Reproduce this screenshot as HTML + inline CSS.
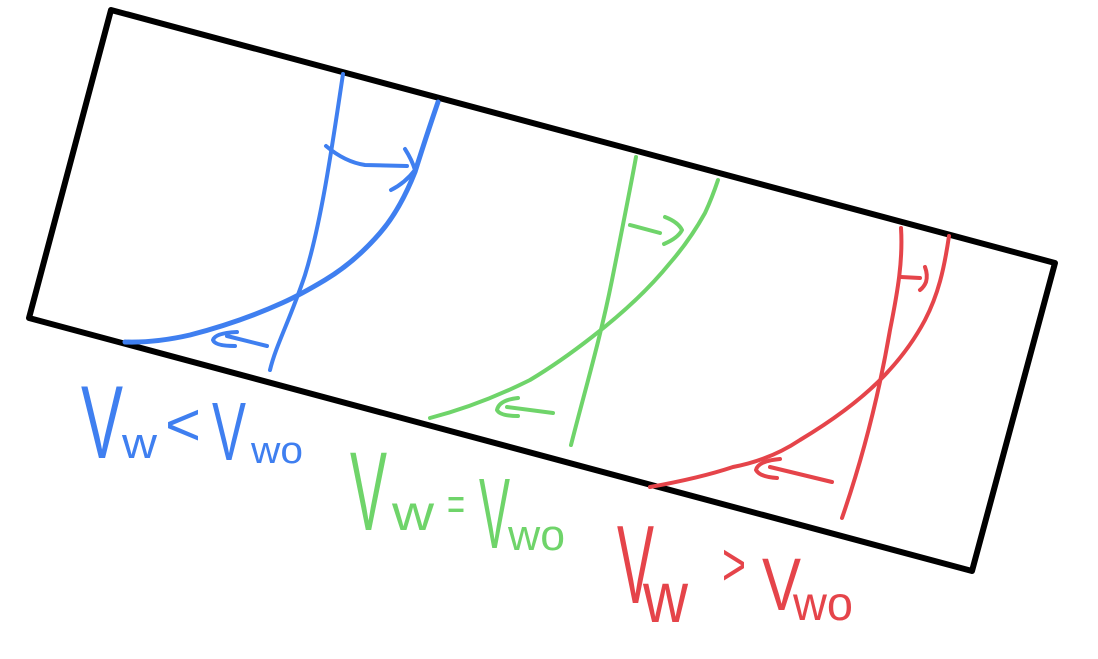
<!DOCTYPE html>
<html><head><meta charset="utf-8"><style>
html,body{margin:0;padding:0;background:#fff;}
svg{display:block;}
text{font-family:"Liberation Sans",sans-serif;}
</style></head><body>
<svg width="1098" height="659" viewBox="0 0 1098 659" xmlns="http://www.w3.org/2000/svg" fill="none" stroke-linecap="round" stroke-linejoin="round">
<polygon points="111,10 1055,263 972,571 29,318" stroke="#000" stroke-width="6"/>

<g stroke="#3f7ff0" stroke-width="4">
<path d="M343,74 Q328,160 318,230 Q300,300 282,303 M318,230 C305,280 290,300 282,303" stroke="none"/>
<path d="M343,74 C333,140 322,220 305,275 C290,320 276,345 270,370"/>
<path d="M438,102 Q425,140 415,172 Q400,210 380,233 Q355,262 325,280 Q300,295 282,303 Q240,322 190,335 Q155,343 125,342" stroke-width="5"/>
<path d="M326,146 Q345,162 365,165 L407,166 M405,149 Q412,160 415,170 Q405,183 391,190"/>
<path d="M267,346 L227,336 M237,332 Q215,333 213,340 Q215,346 235,346"/>
</g>

<g stroke="#6fd46a" stroke-width="4">
<path d="M636,157 C630,190 622,230 612,280 C600,340 585,390 571,445"/>
<path d="M718,180 Q712,198 705,213 Q690,240 670,263 Q640,300 592,337 Q560,362 530,380 Q480,405 430,418"/>
<path d="M630,225 L660,233 M665,217 Q678,222 682,230 Q678,238 664,244"/>
<path d="M553,413 L507,407 M518,398 Q499,400 497,410 Q500,416 518,416"/>
</g>

<g stroke="#e5444a" stroke-width="4">
<path d="M901,228 C903,260 898,290 890,330 C878,400 862,460 842,518"/>
<path d="M949,236 C944,270 938,295 925,320 Q908,352 880,380 Q850,410 800,440 Q770,460 733,467 Q700,478 650,487"/>
<path d="M901,277 L920,278 M925,267 Q928,275 926,282 Q924,287 920,290"/>
<path d="M832,482 L770,467 M780,459 Q758,461 756,470 Q760,477 777,478"/>
</g>

<g fill="#3f7ff0">
<text x="81" y="458" font-size="104" textLength="42" lengthAdjust="spacingAndGlyphs">V</text>
<text x="122" y="458" font-size="44" textLength="35" lengthAdjust="spacingAndGlyphs">w</text>
<text x="165" y="445" font-size="60" textLength="36" lengthAdjust="spacingAndGlyphs">&lt;</text>
<text x="212" y="460" font-size="83" textLength="34" lengthAdjust="spacingAndGlyphs">V</text>
<text x="251" y="463" font-size="38" textLength="52" lengthAdjust="spacingAndGlyphs">wo</text>
</g>
<g fill="#6fd46a">
<text x="350" y="530" font-size="112" textLength="37" lengthAdjust="spacingAndGlyphs">V</text>
<text x="392" y="530" font-size="50" textLength="42" lengthAdjust="spacingAndGlyphs">w</text>
<text x="447" y="520" font-size="46" textLength="18" lengthAdjust="spacingAndGlyphs">=</text>
<text x="479" y="548" font-size="100" textLength="31" lengthAdjust="spacingAndGlyphs">V</text>
<text x="508" y="550" font-size="44" textLength="57" lengthAdjust="spacingAndGlyphs">wo</text>
</g>
<g fill="#e5444a">
<text x="617" y="603" font-size="111" textLength="37" lengthAdjust="spacingAndGlyphs">V</text>
<text x="643" y="622" font-size="72" textLength="45" lengthAdjust="spacingAndGlyphs">w</text>
<text x="722" y="585" font-size="60" textLength="24" lengthAdjust="spacingAndGlyphs">&gt;</text>
<text x="762" y="610" font-size="74" textLength="39" lengthAdjust="spacingAndGlyphs">V</text>
<text x="793" y="620" font-size="48" textLength="60" lengthAdjust="spacingAndGlyphs">wo</text>
</g>
</svg>
</body></html>
